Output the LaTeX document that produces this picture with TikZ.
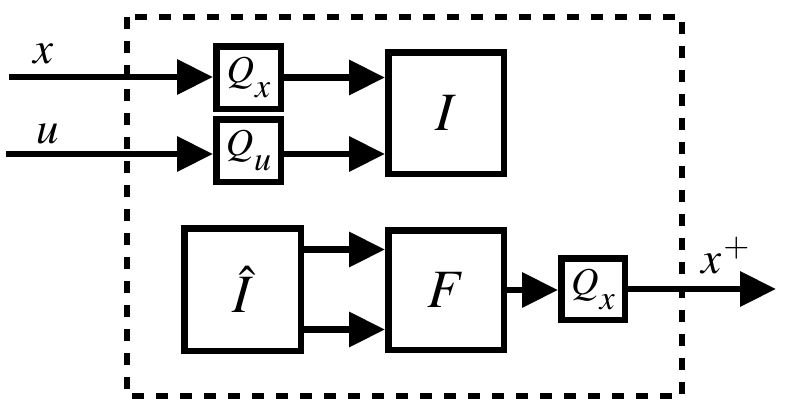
\documentclass[tikz,border=0pt]{standalone}
\usepackage{mathptmx}
\usepackage{graphicx}
\usepackage{tikz}
\usetikzlibrary{arrows.meta, positioning}
\newlength\edgewidth
\setlength\edgewidth{6.5pt}
\newcommand\subsym[1]{\kern1pt\raisebox{-15pt}{\fontsize{34}{36}\selectfont$#1$}}
\newcommand\supsym[1]{\kern2pt\raisebox{17pt}{\resizebox{26pt}{!}{$#1$}}}
\tikzset{
  quantbox/.style={draw, line width=\edgewidth, minimum width=64.5pt,
    minimum height=62.5pt, inner sep=0pt, font=\fontsize{38}{42}\selectfont},
  blockbox/.style={draw, line width=\edgewidth, minimum width=115.5pt,
    minimum height=121.5pt, inner sep=0pt, font=\fontsize{54}{58}\selectfont},
  sigarrow/.style={line width=\edgewidth, -{Triangle[length=36pt, width=34pt]}},
  boundary/.style={line width=6pt, dash pattern=on 12pt off 12pt},
  siglabel/.style={inner sep=0pt, anchor=base, font=\fontsize{45}{50}\selectfont},
}

\begin{document}
\begin{tikzpicture}[x=1pt, y=-1pt]
\useasboundingbox (0,0) rectangle (794,418);
% enclosing system (drawn first; the signals cross it)
\draw[boundary] (127,17) rectangle (682,396);
% blocks
\node[quantbox] (Qx) at (248.5,77.5) {$Q$\subsym{x}};
\node[quantbox] (Qu) at (248.5,150.5) {$Q$\subsym{u}};
\node[blockbox] (I) at (446,113) {$I$};
\node[blockbox, minimum width=116.5pt, minimum height=122.5pt] (Ihat) at (242.5,289.5) {$\hat{I}$};
\node[blockbox, minimum height=119.5pt] (F) at (446,290) {$F$};
\node[quantbox, minimum width=63.5pt, minimum height=61.5pt] (Qo) at (593,289) {$Q$\subsym{x}};
% free ends
\coordinate (xin) at (9,77);
\coordinate (uin) at (6,154);
\coordinate (xout) at (776,289);
% signals
\draw[sigarrow] (xin) -- (xin -| Qx.west);
\draw[sigarrow] (uin) -- (uin -| Qu.west);
\draw[sigarrow] (Qx.east) -- (Qx.east -| I.west);
\draw[sigarrow] (uin -| Qu.east) -- (uin -| I.west);
\draw[sigarrow] ([yshift=40pt]Ihat.east) -- ([yshift=40pt]Ihat.east -| F.west);
\draw[sigarrow] ([yshift=-40pt]Ihat.east) -- ([yshift=-40pt]Ihat.east -| F.west);
\draw[sigarrow] (F.east) -- (F.east -| Qo.west);
\draw[sigarrow] (Qo.east) -- (xout);
% labels
\node[siglabel] (xlab) at (44,63) {$x$};
\node[siglabel] (ulab) at (48,143) {$u$};
\node[siglabel, anchor=base west] (xplab) at (701,273) {$x$\supsym{+}};
\end{tikzpicture}
\end{document}
